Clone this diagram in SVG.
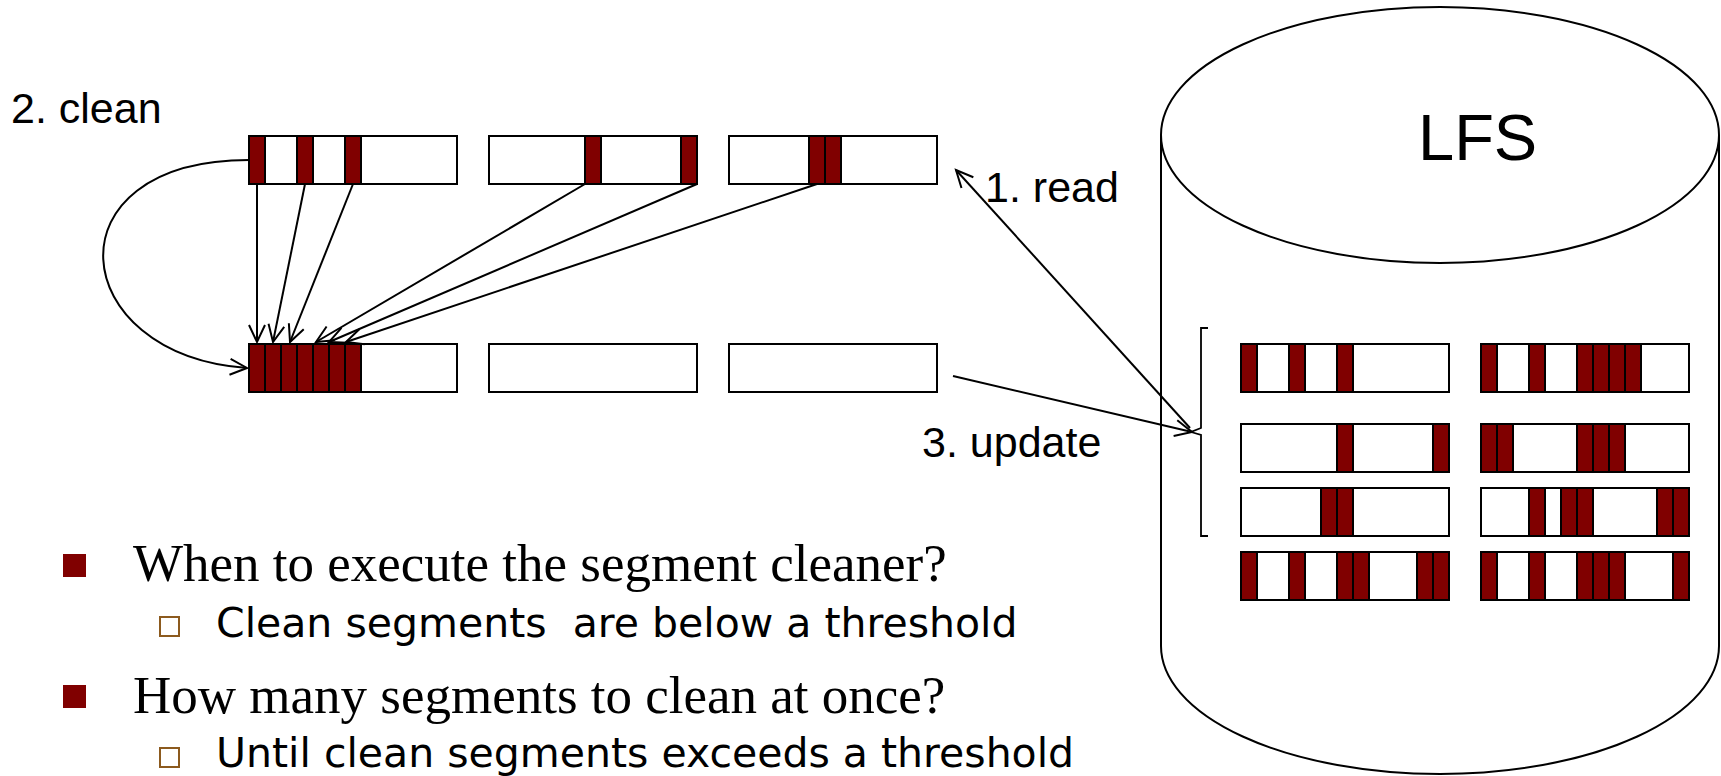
<svg xmlns="http://www.w3.org/2000/svg" width="1721" height="776" viewBox="0 0 1721 776">
  <style>
    .seg { fill: #fff; stroke: #000; stroke-width: 2; }
    .blk { fill: #800000; stroke: #000; stroke-width: 2; }
    .wire { fill: none; stroke: #000; stroke-width: 2; }
    .disk { fill: #fff; stroke: #000; stroke-width: 2; }
    .lbl { font-family: "Liberation Sans", Arial, sans-serif; font-size: 43px; fill: #000; }
    .q { font-family: "Liberation Serif", "Times New Roman", serif; font-size: 53px; fill: #000; }
    .a { font-family: "DejaVu Sans", Verdana, sans-serif; font-size: 41px; fill: #000; white-space: pre; }
    .b1 { fill: #800000; }
    .b2 { fill: none; stroke: #8c5a1e; stroke-width: 2; }
  </style>
  <defs>
    <marker id="arr" markerUnits="userSpaceOnUse" markerWidth="24" markerHeight="24" viewBox="-20 -12 24 24" refX="0" refY="0" orient="auto">
      <path d="M-17,-8 L0,0 L-17,8" fill="none" stroke="#000" stroke-width="2"/>
    </marker>
  </defs>

  <!-- disk drum -->
  <g id="lfs">
    <path class="disk" d="M1161,135 V646 A279,128 0 0 0 1719,646 V135"/>
    <ellipse class="disk" cx="1440" cy="135" rx="279" ry="128"/>
    <text x="1418" y="160" style="font-family:'Liberation Sans',Arial,sans-serif;font-size:65px">LFS</text>
  </g>

  <!-- in-memory segments, read side -->
  <g id="mem-read-1">
    <rect class="seg" x="249" y="136" width="208" height="48"/>
    <rect class="blk" x="249" y="136" width="16" height="48"/>
    <rect class="blk" x="297" y="136" width="16" height="48"/>
    <rect class="blk" x="345" y="136" width="16" height="48"/>
  </g>
  <g id="mem-read-2">
    <rect class="seg" x="489" y="136" width="208" height="48"/>
    <rect class="blk" x="585" y="136" width="16" height="48"/>
    <rect class="blk" x="681" y="136" width="16" height="48"/>
  </g>
  <g id="mem-read-3">
    <rect class="seg" x="729" y="136" width="208" height="48"/>
    <rect class="blk" x="809" y="136" width="16" height="48"/>
    <rect class="blk" x="825" y="136" width="16" height="48"/>
  </g>

  <!-- in-memory segments, write side -->
  <g id="mem-write-1">
    <rect class="seg" x="249" y="344" width="208" height="48"/>
    <rect class="blk" x="249" y="344" width="16" height="48"/>
    <rect class="blk" x="265" y="344" width="16" height="48"/>
    <rect class="blk" x="281" y="344" width="16" height="48"/>
    <rect class="blk" x="297" y="344" width="16" height="48"/>
    <rect class="blk" x="313" y="344" width="16" height="48"/>
    <rect class="blk" x="329" y="344" width="16" height="48"/>
    <rect class="blk" x="345" y="344" width="16" height="48"/>
  </g>
  <g id="mem-write-2">
    <rect class="seg" x="489" y="344" width="208" height="48"/>
  </g>
  <g id="mem-write-3">
    <rect class="seg" x="729" y="344" width="208" height="48"/>
  </g>

  <!-- on-disk segments -->
  <g id="disk-l1">
    <rect class="seg" x="1241" y="344" width="208" height="48"/>
    <rect class="blk" x="1241" y="344" width="16" height="48"/>
    <rect class="blk" x="1289" y="344" width="16" height="48"/>
    <rect class="blk" x="1337" y="344" width="16" height="48"/>
  </g>
  <g id="disk-r1">
    <rect class="seg" x="1481" y="344" width="208" height="48"/>
    <rect class="blk" x="1481" y="344" width="16" height="48"/>
    <rect class="blk" x="1529" y="344" width="16" height="48"/>
    <rect class="blk" x="1577" y="344" width="16" height="48"/>
    <rect class="blk" x="1593" y="344" width="16" height="48"/>
    <rect class="blk" x="1609" y="344" width="16" height="48"/>
    <rect class="blk" x="1625" y="344" width="16" height="48"/>
  </g>
  <g id="disk-l2">
    <rect class="seg" x="1241" y="424" width="208" height="48"/>
    <rect class="blk" x="1337" y="424" width="16" height="48"/>
    <rect class="blk" x="1433" y="424" width="16" height="48"/>
  </g>
  <g id="disk-r2">
    <rect class="seg" x="1481" y="424" width="208" height="48"/>
    <rect class="blk" x="1481" y="424" width="16" height="48"/>
    <rect class="blk" x="1497" y="424" width="16" height="48"/>
    <rect class="blk" x="1577" y="424" width="16" height="48"/>
    <rect class="blk" x="1593" y="424" width="16" height="48"/>
    <rect class="blk" x="1609" y="424" width="16" height="48"/>
  </g>
  <g id="disk-l3">
    <rect class="seg" x="1241" y="488" width="208" height="48"/>
    <rect class="blk" x="1321" y="488" width="16" height="48"/>
    <rect class="blk" x="1337" y="488" width="16" height="48"/>
  </g>
  <g id="disk-r3">
    <rect class="seg" x="1481" y="488" width="208" height="48"/>
    <rect class="blk" x="1529" y="488" width="16" height="48"/>
    <rect class="blk" x="1561" y="488" width="16" height="48"/>
    <rect class="blk" x="1577" y="488" width="16" height="48"/>
    <rect class="blk" x="1657" y="488" width="16" height="48"/>
    <rect class="blk" x="1673" y="488" width="16" height="48"/>
  </g>
  <g id="disk-l4">
    <rect class="seg" x="1241" y="552" width="208" height="48"/>
    <rect class="blk" x="1241" y="552" width="16" height="48"/>
    <rect class="blk" x="1289" y="552" width="16" height="48"/>
    <rect class="blk" x="1337" y="552" width="16" height="48"/>
    <rect class="blk" x="1353" y="552" width="16" height="48"/>
    <rect class="blk" x="1417" y="552" width="16" height="48"/>
    <rect class="blk" x="1433" y="552" width="16" height="48"/>
  </g>
  <g id="disk-r4">
    <rect class="seg" x="1481" y="552" width="208" height="48"/>
    <rect class="blk" x="1481" y="552" width="16" height="48"/>
    <rect class="blk" x="1529" y="552" width="16" height="48"/>
    <rect class="blk" x="1577" y="552" width="16" height="48"/>
    <rect class="blk" x="1593" y="552" width="16" height="48"/>
    <rect class="blk" x="1609" y="552" width="16" height="48"/>
    <rect class="blk" x="1673" y="552" width="16" height="48"/>
  </g>

  <!-- brace grouping the first three disk rows -->
  <g id="brace">
    <path d="M1208,328 H1201 V428 L1191,432 L1201,435 V536 H1208" fill="none" stroke="#000" stroke-width="1.8"/>
  </g>

  <!-- step labels -->
  <g id="labels">
    <text class="lbl" x="11" y="123">2. clean</text>
    <text class="lbl" x="985" y="202">1. read</text>
    <text class="lbl" x="922" y="457">3. update</text>
  </g>

  <!-- connectors -->
  <g id="connectors">
    <path class="wire" d="M249,160 C45,160 65,355 247,368" marker-end="url(#arr)"/>
    <line class="wire" x1="257" y1="184" x2="257" y2="342" marker-end="url(#arr)"/>
    <line class="wire" x1="305" y1="184" x2="273" y2="342" marker-end="url(#arr)"/>
    <line class="wire" x1="353" y1="184" x2="290" y2="342" marker-end="url(#arr)"/>
    <line class="wire" x1="585" y1="184" x2="316" y2="342" marker-end="url(#arr)"/>
    <line class="wire" x1="697" y1="184" x2="329" y2="342" marker-end="url(#arr)"/>
    <line class="wire" x1="817" y1="184" x2="346" y2="342" marker-end="url(#arr)"/>
    <line class="wire" x1="1190" y1="428" x2="956" y2="170" marker-end="url(#arr)"/>
    <line class="wire" x1="953" y1="376" x2="1192" y2="432" marker-end="url(#arr)"/>
  </g>

  <!-- questions -->
  <g id="notes">
    <rect class="b1" x="63" y="554" width="23" height="23"/>
    <text class="q" x="133" y="581">When to execute the segment cleaner?</text>
    <rect class="b2" x="160" y="617" width="19" height="19"/>
    <text class="a" x="216" y="637" xml:space="preserve">Clean segments  are below a threshold</text>
    <rect class="b1" x="63" y="685" width="23" height="23"/>
    <text class="q" x="133" y="713">How many segments to clean at once?</text>
    <rect class="b2" x="160" y="748" width="19" height="19"/>
    <text class="a" x="216" y="767">Until clean segments exceeds a threshold</text>
  </g>
</svg>
